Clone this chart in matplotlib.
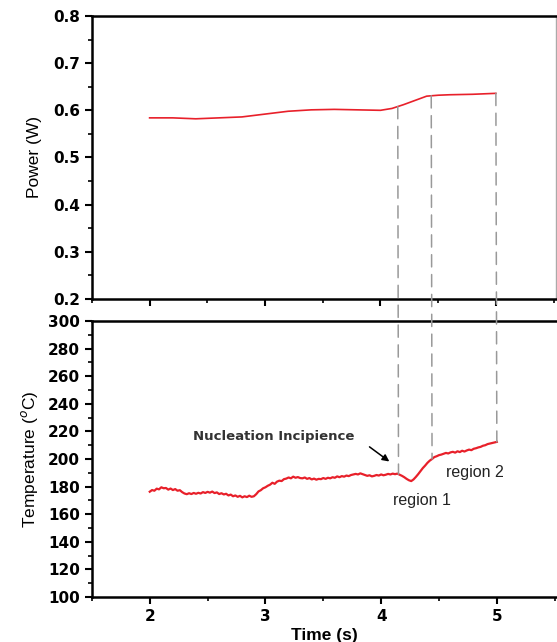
import numpy as np
import matplotlib.pyplot as plt
from matplotlib.patches import ConnectionPatch
from matplotlib.ticker import MultipleLocator

# power trace (upper panel)
power_t = [2.0, 2.2, 2.4, 2.6, 2.8, 3.0, 3.2, 3.4, 3.6, 3.8, 4.0, 4.1, 4.2, 4.3, 4.4, 4.5, 4.6, 4.8, 5.0]
power = [0.584, 0.584, 0.582, 0.584, 0.586, 0.592, 0.598, 0.601, 0.602, 0.601,
         0.600, 0.604, 0.612, 0.621, 0.630, 0.632, 0.633, 0.634, 0.636]

# temperature trace (lower panel), sampled every 0.02 s from 2.0 to 5.0 s
temperature = [
    176.3, 177.5, 177.0, 178.5, 178.0, 179.5, 178.8, 179.0, 177.8, 178.6,
    177.5, 178.2, 177.0, 177.4, 176.0, 175.0, 174.5, 175.2, 174.6, 175.4,
    174.8, 175.5, 175.0, 176.0, 175.4, 176.2, 175.6, 176.4, 175.3, 175.8,
    174.6, 175.2, 174.3, 174.8, 173.6, 174.2, 173.0, 173.6, 172.6, 173.3,
    172.2, 173.0, 172.4, 173.4, 172.6, 173.0, 174.5, 176.5, 177.4, 178.8,
    179.5, 180.6, 181.4, 182.8, 182.0, 183.6, 184.3, 184.0, 185.4, 185.8,
    186.6, 186.0, 187.2, 186.4, 186.9, 186.2, 186.0, 186.6, 185.6, 186.2,
    185.2, 185.8, 185.0, 185.6, 185.4, 186.2, 185.6, 186.4, 186.0, 186.8,
    186.4, 187.4, 186.8, 187.6, 187.2, 188.0, 187.6, 188.4, 188.8, 189.2,
    188.8, 189.6, 189.0, 188.4, 187.8, 188.2, 187.4, 187.8, 188.4, 188.0,
    188.8, 188.2, 188.6, 189.2, 188.8, 189.4, 189.0, 189.4, 188.6, 187.8,
    186.8, 185.6, 184.6, 184.0, 185.2, 187.0, 189.0, 191.2, 193.4, 195.2,
    197.2, 198.8, 200.0, 201.4, 202.0, 202.8, 203.2, 203.8, 204.4, 204.0,
    204.8, 205.2, 204.6, 205.6, 205.0, 206.0, 205.4, 206.2, 206.8, 206.4,
    207.4, 207.8, 208.4, 208.8, 209.6, 210.0, 210.8, 211.2, 211.6, 212.0,
    212.4]
temp_t = np.linspace(2.0, 5.0, len(temperature))

# boundaries of nucleation / region 1 / region 2
marks = [4.15, 4.44, 5.0]

red = '#e8202a'
tick_font = dict(family='DejaVu Sans', weight='bold', size=11)

fig = plt.figure(figsize=(5.57, 6.42), dpi=100)
ax1 = fig.add_axes([0.165, 0.5343, 0.833, 0.4408])
ax2 = fig.add_axes([0.165, 0.0701, 0.835, 0.4299])

ax1.plot(power_t, power, color=red, lw=1.2)
ax2.plot(temp_t, temperature, color=red, lw=1.6)

for ax in (ax1, ax2):
    ax.set_xlim(1.5, 5.52)
    ax.xaxis.set_major_locator(MultipleLocator(1))
    ax.xaxis.set_minor_locator(MultipleLocator(0.5))
    ax.tick_params(which='major', direction='out', length=5, width=1.5, top=False, right=False)
    ax.tick_params(which='minor', direction='out', length=3, width=1.2, top=False, right=False)
    for s in ('left', 'bottom', 'top'):
        ax.spines[s].set_linewidth(1.8)

ax1.spines['right'].set_color('#aaaaaa')
ax1.spines['right'].set_linewidth(1.0)
ax2.spines['right'].set_visible(False)

ax1.set_ylim(0.2, 0.8)
ax1.yaxis.set_minor_locator(MultipleLocator(0.05))
ax1.set_yticks(np.arange(0.2, 0.81, 0.1))
ax1.set_yticklabels(['%.1f' % v for v in np.arange(0.2, 0.81, 0.1)], **tick_font)
ax1.tick_params(axis='x', labelbottom=False)
ax1.set_ylabel('Power (W)', family='Liberation Sans', fontsize=12.5, labelpad=8)

ax2.set_ylim(100, 300)
ax2.yaxis.set_minor_locator(MultipleLocator(10))
ax2.set_yticks(np.arange(100, 301, 20))
ax2.set_yticklabels([str(v) for v in range(100, 301, 20)], **tick_font)
ax2.set_xticks([2, 3, 4, 5])
ax2.set_xticklabels(['2', '3', '4', '5'], **tick_font)
ax2.set_ylabel('Temperature ($^o$C)', family='Liberation Sans', fontsize=12.5, labelpad=6)
ax2.set_xlabel('Time (s)', family='Liberation Sans', fontsize=12.5, weight='bold', labelpad=3)

# dashed guides from the power curve down to the temperature curve
for x in marks:
    con = ConnectionPatch(xyA=(x, np.interp(x, power_t, power)), coordsA='data', axesA=ax1,
                          xyB=(x, np.interp(x, temp_t, temperature)), coordsB='data', axesB=ax2,
                          color='#999999', lw=1.1, linestyle=(0, (8, 5)), zorder=5)
    fig.add_artist(con)

ax2.text(3.07, 216, 'Nucleation Incipience', family='DejaVu Sans', weight='bold',
         fontsize=9.5, color='#333333', ha='center', va='center')
ax2.annotate('', xy=(4.09, 197), xytext=(3.88, 210),
             arrowprops=dict(arrowstyle='-|>', color='k', lw=1.1, mutation_scale=10))
ax2.text(4.35, 170, 'region 1', family='Liberation Sans', fontsize=11.5,
         color='#222222', ha='center', va='center')
ax2.text(4.81, 190, 'region 2', family='Liberation Sans', fontsize=11.5,
         color='#222222', ha='center', va='center')

fig.savefig('out.png', dpi=100)
